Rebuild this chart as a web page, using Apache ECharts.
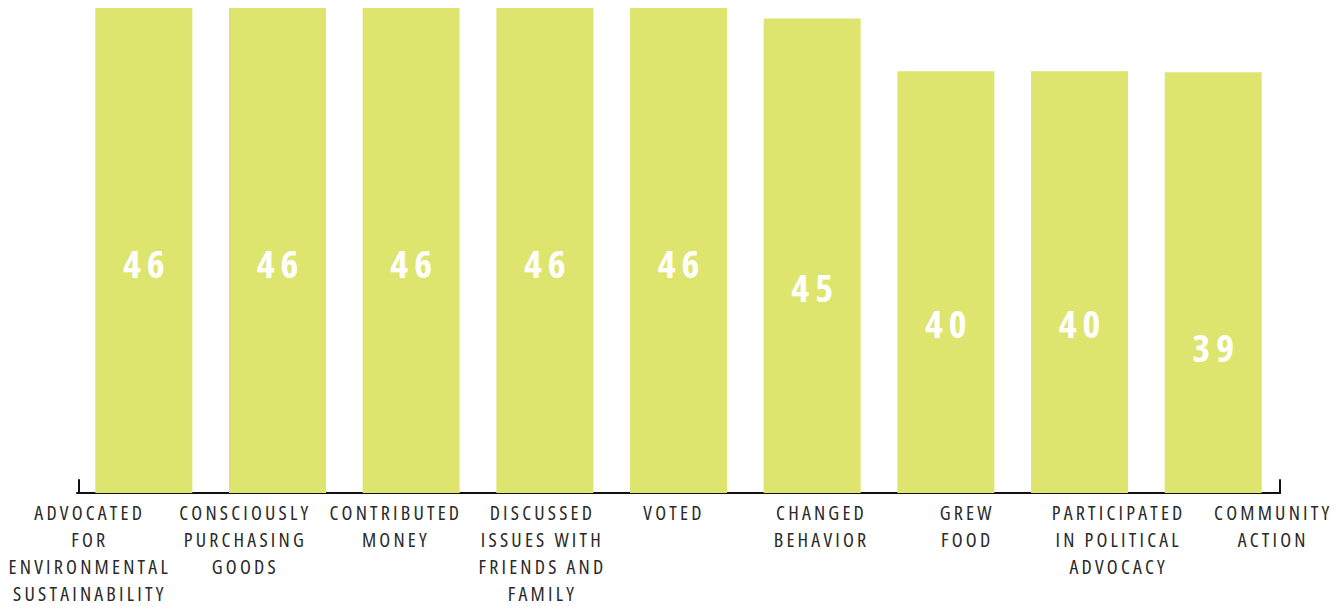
<!DOCTYPE html>
<html>
<head>
<meta charset="utf-8">
<script src="https://cdn.jsdelivr.net/npm/echarts@6/dist/echarts.min.js"></script>
<style>
  html, body { margin: 0; padding: 0; background: #fff; }
  #main { width: 1342px; height: 609px; }
  /* condensed, spaced lettering like the original */
  #main text { font-stretch: condensed !important; letter-spacing: 3.2px; }
  #main text[fill="#ffffff"], #main text[fill="#fff"], #main text[fill="rgb(255,255,255)"] { letter-spacing: 6px; }
</style>
</head>
<body>
<div id="main"></div>
<script>
var categories = [
  'ADVOCATED\nFOR\nENVIRONMENTAL\nSUSTAINABILITY',
  'CONSCIOUSLY\nPURCHASING\nGOODS',
  'CONTRIBUTED\nMONEY',
  'DISCUSSED\nISSUES WITH\nFRIENDS AND\nFAMILY',
  'VOTED',
  'CHANGED\nBEHAVIOR',
  'GREW\nFOOD',
  'PARTICIPATED\nIN POLITICAL\nADVOCACY',
  'COMMUNITY\nACTION'
];
// bar heights as drawn; labels show the truncated value
var values = [46, 46, 46, 46, 46, 45, 40, 40, 39.9];
// vertical nudge of the value labels (style only)
var labelShift = [12, 12, 12, 12, 12, 31, 41, 41, 64];
// horizontal nudge of the category labels (style only)
var nameNudge = [2, 10, 13, 12, -4, -4, -6, -2, 5];

var myChart = echarts.init(document.getElementById('main'), null, { renderer: 'svg' });

var endTick = { show: true, onZero: false, lineStyle: { color: '#111', width: 2 } };

var option = {
  animation: false,
  grid: [
    { left: 77, right: 62, top: 8, bottom: 116 },
    { left: 14, right: -4, top: 8, bottom: 116 },   // wider grid only for the category labels
    { left: 79, right: 62, top: 480, bottom: 116 }  // small end ticks of the baseline
  ],
  xAxis: [{
    type: 'category',
    gridIndex: 0,
    data: categories,
    axisLine: { lineStyle: { color: '#111', width: 2 } },
    axisTick: { show: false },
    axisLabel: { show: false }
  }, {
    type: 'category',
    gridIndex: 1,
    data: categories.map(function (c, i) {
      var d = nameNudge[i];
      return { value: c, textStyle: { padding: d >= 0 ? [0, 0, 0, 2 * d] : [0, -2 * d, 0, 0] } };
    }),
    axisLine: { show: false },
    axisTick: { show: false },
    axisLabel: {
      interval: 0,
      margin: 6,
      color: '#2a2a2a',
      fontFamily: 'Open Sans',
      fontSize: 20,
      lineHeight: 27,
      align: 'center'
    }
  }, {
    type: 'value', gridIndex: 2, min: 0, max: 1, show: false
  }],
  yAxis: [
    { type: 'value', gridIndex: 0, min: 0, max: 46, show: false },
    { type: 'value', gridIndex: 1, min: 0, max: 46, show: false },
    { type: 'value', gridIndex: 2, position: 'left', axisLine: endTick,
      axisTick: { show: false }, axisLabel: { show: false }, splitLine: { show: false } },
    { type: 'value', gridIndex: 2, position: 'right', axisLine: endTick,
      axisTick: { show: false }, axisLabel: { show: false }, splitLine: { show: false } }
  ],
  series: [{
    type: 'bar',
    xAxisIndex: 0,
    yAxisIndex: 0,
    barWidth: 97,
    itemStyle: { color: '#dee56e' },
    label: {
      show: true,
      position: 'inside',
      color: '#ffffff',
      fontFamily: 'Open Sans',
      fontWeight: 'bold',
      fontSize: 38,
      formatter: function (p) { return Math.floor(p.value); }
    },
    data: values.map(function (v, i) {
      return { value: v, label: { offset: [3, labelShift[i]] } };
    })
  }]
};
myChart.setOption(option);
</script>
</body>
</html>
